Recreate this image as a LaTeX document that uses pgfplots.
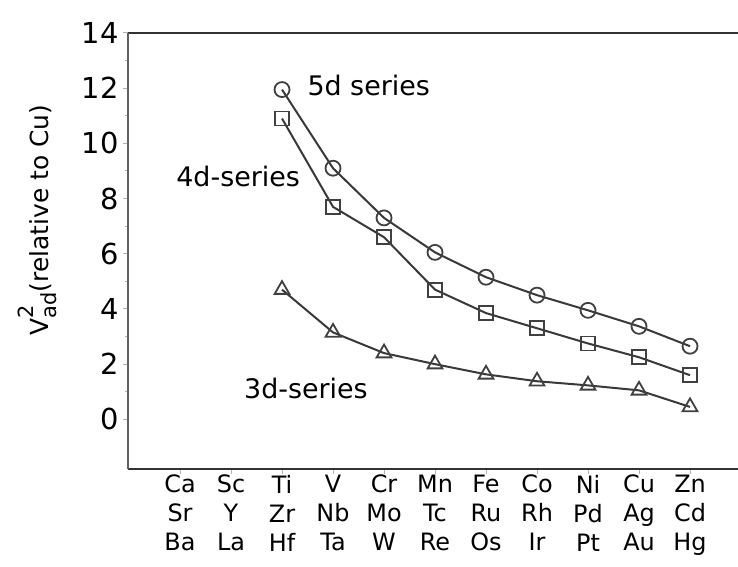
\documentclass[border=0pt]{standalone}
\usepackage{fontspec}
\setmainfont{DejaVu Sans}
\usepackage{pgfplots}
\pgfplotsset{compat=1.18}
\begin{document}
\begin{tikzpicture}
\begin{axis}[
  scale only axis, width=612bp, height=436bp,
  xmin=-1.02, xmax=10.98, ymin=-1.8, ymax=14,
  separate axis lines,
  x axis line style={line width=2.6bp, draw=black!80},
  y axis line style={line width=2.4bp, draw=gray!75!black},
  xtick={0,...,10},
  xtick pos=left, ytick pos=left,
  xticklabels={{Ca\\Sr\\Ba},{Sc\\Y\\La},{Ti\\Zr\\Hf},{V\\Nb\\Ta},{Cr\\Mo\\W},{Mn\\Tc\\Re},{Fe\\Ru\\Os},{Co\\Rh\\Ir},{Ni\\Pd\\Pt},{Cu\\Ag\\Au},{Zn\\Cd\\Hg}},
  xticklabel style={align=center, font=\fontsize{24}{29}\selectfont, inner sep=1bp},
  ytick={0,2,...,14},
  minor y tick num=1,
  yticklabel style={font=\fontsize{29}{29}\selectfont, xshift=-1bp},
  /pgf/number format/assume math mode=true,
  major tick length=5bp, minor tick length=3bp,
  tick style={gray!60, line width=1bp},
  tick align=outside,
  ylabel={V\rlap{\raisebox{0.62em}{\fontsize{21}{21}\selectfont 2}}\raisebox{-0.32em}{\fontsize{21}{21}\selectfont ad}(relative to Cu)},
  ylabel style={font=\fontsize{25}{25}\selectfont, at={(axis description cs:-0.148,0.571)}, anchor=center, rotate=0},
]
% 5d series
\addplot[draw=gray!45!black, line width=2bp, mark=o, mark size=7.5bp, mark options={solid, fill=white, draw=gray!50!black, line width=1.8bp}] coordinates {
 (2,11.95) (3,9.1) (4,7.3) (5,6.05) (6,5.15) (7,4.5) (8,3.95) (9,3.37) (10,2.65)};
% 4d series
\addplot[draw=gray!45!black, line width=2bp, mark=square, mark size=7bp, mark options={solid, fill=white, draw=gray!50!black, line width=1.8bp}] coordinates {
 (2,10.9) (3,7.7) (4,6.6) (5,4.7) (6,3.85) (7,3.3) (8,2.75) (9,2.25) (10,1.6)};
% 3d series
\addplot[draw=gray!45!black, line width=2bp, mark=triangle, mark size=8.5bp, mark options={solid, fill=white, draw=gray!50!black, line width=1.8bp}] coordinates {
 (2,4.7) (3,3.15) (4,2.4) (5,2.0) (6,1.63) (7,1.38) (8,1.23) (9,1.05) (10,0.45)};
\node[font=\fontsize{27}{27}\selectfont] at (axis cs:3.7,12.1) {5d series};
\node[font=\fontsize{27}{27}\selectfont] at (axis cs:1.14,8.8) {4d-series};
\node[font=\fontsize{27}{27}\selectfont] at (axis cs:2.47,1.12) {3d-series};
\coordinate (sw) at (rel axis cs:0,0);
\coordinate (ne) at (rel axis cs:1,1);
\end{axis}
\pgfresetboundingbox
\path[use as bounding box] ([shift={(-128bp,-98bp)}]sw) rectangle ([shift={(-2bp,33bp)}]ne);
\end{tikzpicture}
\end{document}
